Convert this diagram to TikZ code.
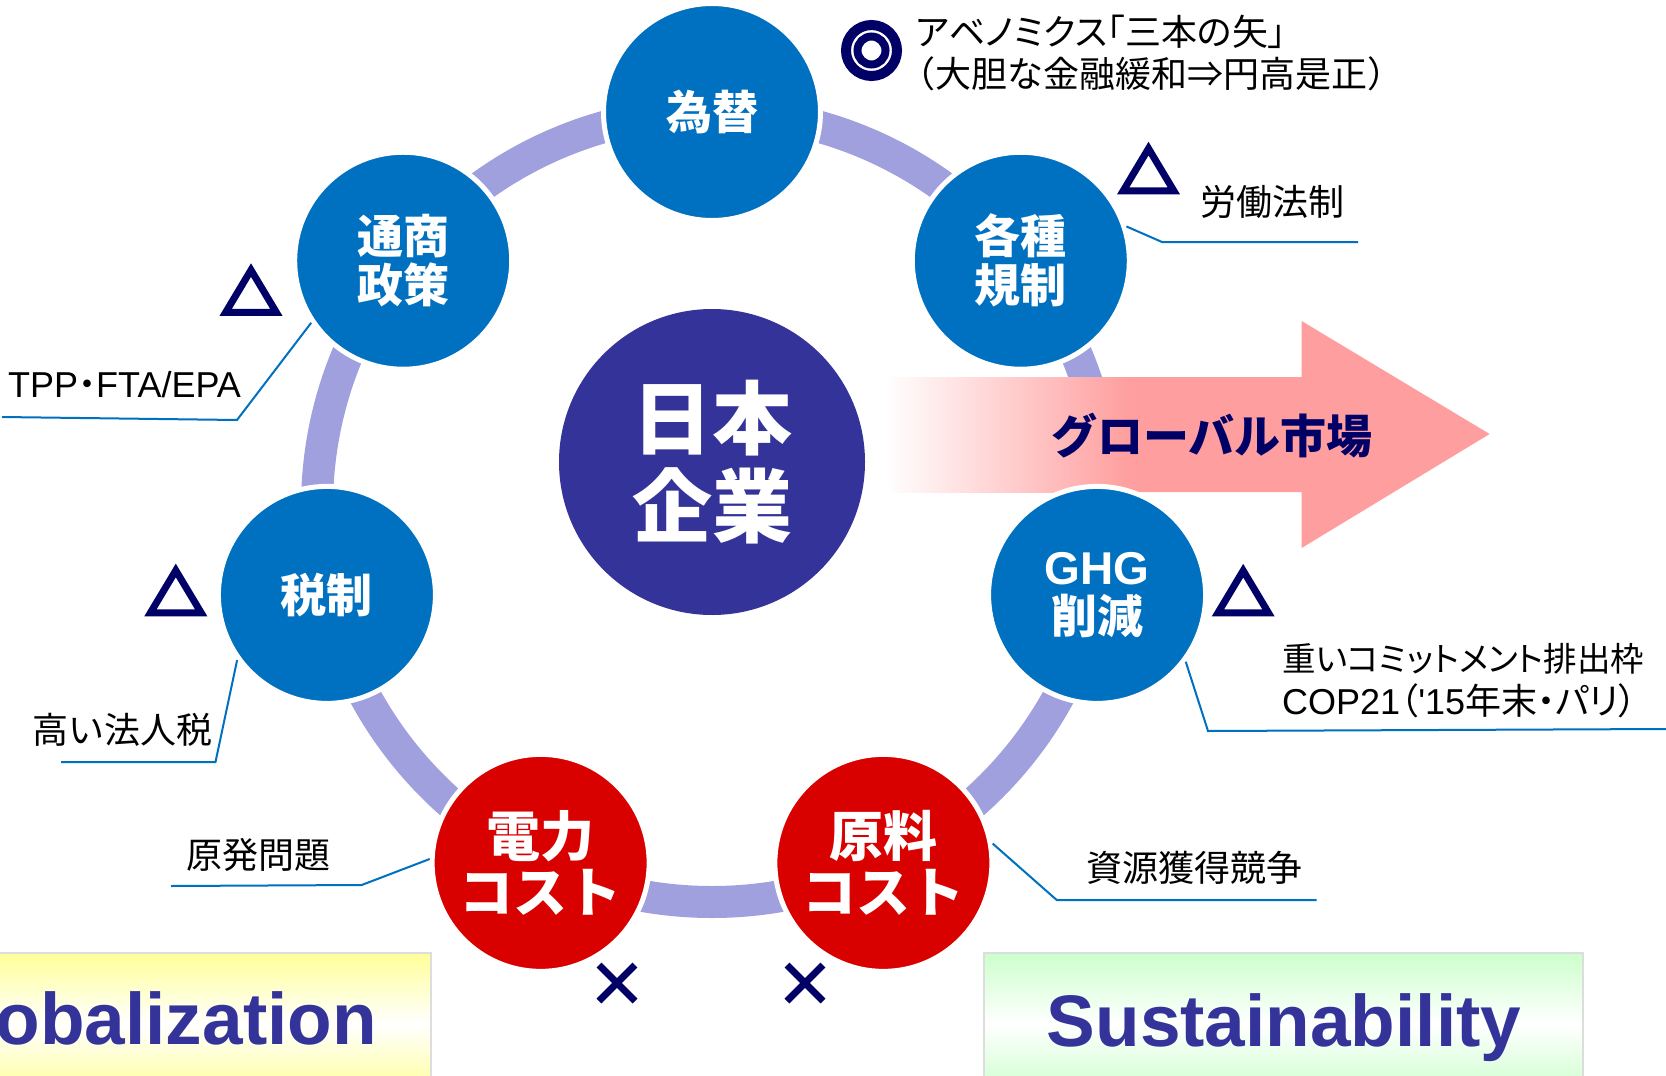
\documentclass[tikz,border=0pt]{standalone}
\usepackage{fontspec}
\newfontfamily\jp{Noto Sans CJK JP}
\newfontfamily\jpp{Noto Sans CJK JP}[RawFeature=+palt]
\newfontfamily\arialb{Liberation Sans}
\usetikzlibrary{calc}
\definecolor{cblue}{HTML}{0070C0}
\definecolor{cred}{HTML}{D90000}
\definecolor{cmain}{HTML}{333399}
\definecolor{cring}{RGB}{160,160,222}
\definecolor{cnavy}{HTML}{000066}
\definecolor{cpink}{RGB}{255,158,158}
\definecolor{cyel}{HTML}{FFFF99}
\definecolor{cgrn}{HTML}{CCFFCC}
\definecolor{cgray}{HTML}{DDDDDD}
\newcommand{\mytri}[2]{\fill[cnavy, even odd rule, shift={(#1,#2)}] (0,-34.75) -- (31.5,17.85) -- (-31.5,17.85) -- cycle (0,-21.1) -- (19.15,10.85) -- (-19.15,10.85) -- cycle;}
\begin{document}
\begin{tikzpicture}[x=1pt,y=-1pt,
  sat/.style={circle, minimum size=217pt, inner sep=0pt, draw=white, line width=5pt, fill=cblue, text=white, font=\jp\bfseries\fontsize{46}{49}\selectfont, align=center},
  satred/.style={sat, fill=cred, font=\jp\bfseries\fontsize{54}{56}\selectfont},
  callout/.style={draw=cblue, line width=2pt},
  lbl/.style={anchor=west, inner sep=0pt, font=\jp\fontsize{36}{42}\selectfont, text=black},
  lblp/.style={lbl, font=\jpp\fontsize{36}{42}\selectfont},
  xmark/.style={draw=cnavy, line width=7pt},
  bigword/.style={font=\arialb\bfseries\fontsize{73}{80}\selectfont, text=cmain, inner sep=0pt},
]
\clip (0,0) rectangle (1666,1076);
\fill[white] (0,0) rectangle (1666,1076);
% ring
\coordinate (rc) at (712,507);
\draw[cring, line width=32pt] (rc) circle (395pt);
% arrow
\fill[cpink] (885,377) -- (1301.6,377) -- (1301.6,321) -- (1489.6,434) -- (1301.6,548) -- (1301.6,492) -- (885,492) -- cycle;
\shade[left color=white, right color=cpink] (885,377) rectangle (1130,492);
\node[font=\jp\bfseries\fontsize{46}{50}\selectfont, text=cnavy, inner sep=0pt] (gm) at (1212,436) {グローバル市場};
% main circle
\node[circle, minimum size=306pt, inner sep=0pt, fill=cmain, text=white, align=center, font=\jp\bfseries\fontsize{80}{88}\selectfont] (main) at (712,462) {日本\\企業};
% satellites
\node[sat] (kawase) at ($(rc)+(90:395pt)$) {為替};
\node[sat] (tsusho) at ($(rc)+(141.4286:395pt)$) {通商\\政策};
\node[sat] (zeisei) at ($(rc)+(192.857:395pt)$) {税制};
\node[satred] (denryoku) at ($(rc)+(244.286:395pt)$) {電力\\コスト};
\node[satred] (genryo) at ($(rc)+(295.714:395pt)$) {原料\\コスト};
\node[sat] (ghg) at ($(rc)+(347.143:395pt)$) {{\arialb\bfseries GHG}\\削減};
\node[sat] (kakushu) at ($(rc)+(38.571:395pt)$) {各種\\規制};
% callouts
\coordinate (k1) at (1162,242);  \coordinate (k2) at (1358,242);
\coordinate (t1) at (237,420);   \coordinate (t2) at (2,417);
\coordinate (z1) at (215.5,762); \coordinate (z2) at (61,762);
\coordinate (d1) at (361.7,885); \coordinate (d2) at (171,886);
\coordinate (g1) at (1056.7,900); \coordinate (g2) at (1316.7,900);
\coordinate (h1) at (1208,731);  \coordinate (h2) at (1666,729);
\draw[callout] (kakushu.18) -- (k1) -- (k2);
\draw[callout] (tsusho.214) -- (t1) -- (t2);
\draw[callout] (zeisei.216) -- (z1) -- (z2);
\draw[callout] (denryoku.178) -- (d1) -- (d2);
\draw[callout] (genryo.10) -- (g1) -- (g2);
\draw[callout] (ghg.-37) -- (h1) -- (h2);
% labels
\node[lblp] (abe1) at (916,32) {アベノミクス「三本の矢」};
\node[lbl] (abe2) at (899,74) {（大胆な金融緩和⇒円高是正）};
\node[lbl] (rodo) at (1200,202) {労働法制};
\node[lblp] (tpp) at (8,385) {{\arialb TPP}・{\arialb FTA/EPA}};
\node[lbl] (hojin) at (32,730) {高い法人税};
\node[lbl] (genpatsu) at (186,855) {原発問題};
\node[lbl] (shigen) at (1086,868) {資源獲得競争};
\node[lblp, font=\jpp\fontsize{33.5}{40}\selectfont] (cop1) at (1282,659) {重いコミットメント排出枠};
\node[lblp] (cop2) at (1282,701) {{\arialb COP21}（{\arialb '15}年末・パリ）};
% marks
\draw[cnavy, line width=10pt] (871.5,50.5) circle (25.5pt);
\draw[cnavy, line width=8pt] (871.5,50.5) circle (14pt);
\mytri{1148.5}{176.5}
\mytri{251}{298}
\mytri{175.8}{598.4}
\mytri{1243.2}{598.6}
\draw[xmark] (599,965) -- (635,1001) (635,965) -- (599,1001);
\draw[xmark] (787,965) -- (823,1001) (823,965) -- (787,1001);
% bottom boxes
\draw[cgray, line width=2pt, top color=cyel, bottom color=cyel, middle color=white] (-10,953) rectangle (431,1095);
\draw[cgray, line width=2pt, top color=cgrn, bottom color=cgrn, middle color=white] (984,953) rectangle (1583,1095);
\node[bigword, anchor=base east] (glob) at (377,1044) {Globalization};
\node[bigword, anchor=base] (sust) at (1284,1046) {Sustainability};
\end{tikzpicture}
\end{document}
